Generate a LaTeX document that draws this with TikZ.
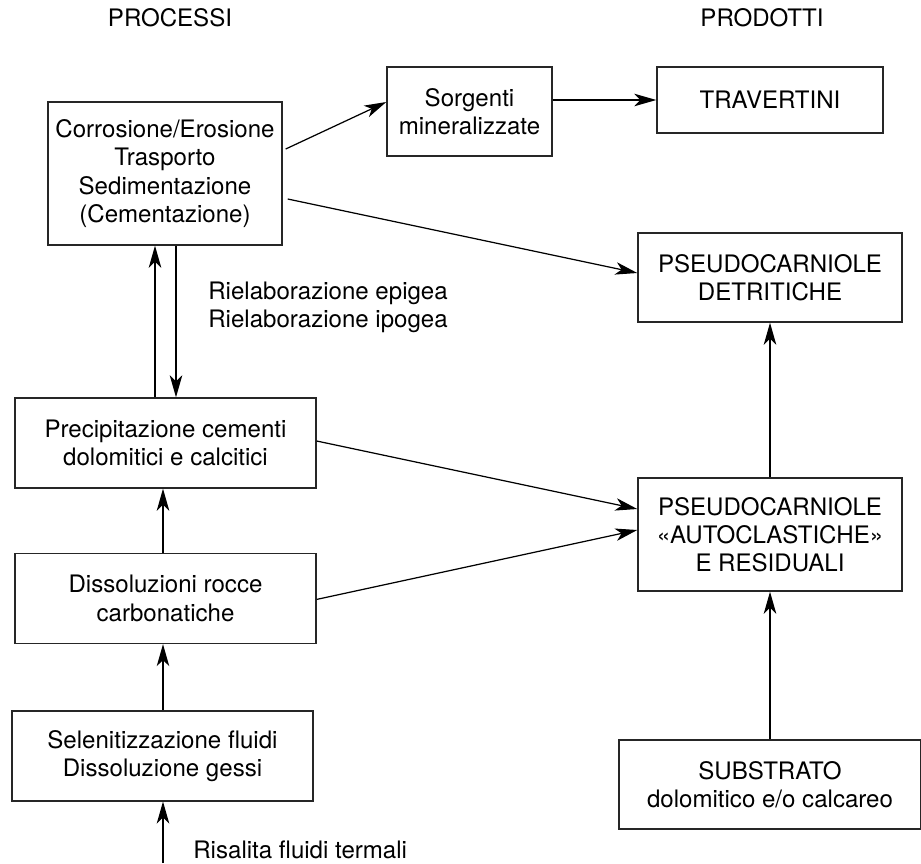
\documentclass[tikz,border=0pt]{standalone}
\usepackage{fontspec}
\setmainfont{TeX Gyre Heros}
\usetikzlibrary{arrows.meta,positioning}

\begin{document}
\begin{tikzpicture}[
	processnode/.style={rectangle, draw=black!85, line width=0.8pt, align=center, inner sep=0pt, minimum width=6.02cm, minimum height=1.8cm},
	productnode/.style={rectangle, draw=black!85, line width=0.8pt, align=center, inner sep=0pt},
	labelnode/.style={align=left, inner sep=0pt},
	flow/.style={-{Stealth[length=4.4mm, width=2.5mm, inset=1.2mm]}, line width=0.7pt},
	font=\fontsize{13.7}{16}\selectfont,
	node distance=1.3cm
	]
	\useasboundingbox (0,0) rectangle (18.42,-17.26);
	% Headings
	\node (Processi) at (3.40,-0.36) {PROCESSI};
	\node (Prodotti) at (15.24,-0.36) {PRODOTTI};
	%Nodes
	\node[productnode, minimum width=4.68cm, minimum height=2.86cm](Corrosione) at (3.30,-3.47) {Corrosione/Erosione\\Trasporto\\Sedimentazione\\(Cementazione)};
	\node[productnode, minimum width=3.30cm, minimum height=1.78cm](Sorgenti) at (9.39,-2.23) {Sorgenti\\mineralizzate};
	\node[productnode, minimum width=4.52cm, minimum height=1.32cm](Travertini) at (15.40,-2.00) {TRAVERTINI};
	\node[productnode, minimum width=5.28cm, minimum height=1.78cm](Detritiche) at (15.40,-5.55) {PSEUDOCARNIOLE\\DETRITICHE};
	\node[productnode, minimum width=5.28cm, minimum height=2.26cm](Autoclastiche) at (15.40,-10.69) {PSEUDOCARNIOLE\\«AUTOCLASTICHE»\\E RESIDUALI};
	\node[productnode, minimum width=6.04cm, minimum height=1.78cm](Substrato) at (15.40,-15.69) {SUBSTRATO\\dolomitico e/o calcareo};
	\node[processnode](Precipitazione) at (3.31,-8.86) {Precipitazione cementi\\dolomitici e calcitici};
	\node[processnode](Dissoluzioni)[below=1.28cm of Precipitazione] {Dissoluzioni rocce\\carbonatiche};
	\node[processnode](Selenitizzazione)[below=1.32cm of Dissoluzioni, xshift=-0.06cm] {Selenitizzazione fluidi\\Dissoluzione gessi};
	\coordinate (Risalita) at (3.26,-17.26);
	% Labels
	\node[labelnode, anchor=west](Rielaborazione) at (4.16,-6.14) {Rielaborazione epigea\\Rielaborazione ipogea};
	\node[labelnode, anchor=base west, text depth=0pt](Fluidi) at (3.86,-17.16) {Risalita fluidi termali};
	%Lines
	\draw[flow] ([xshift=-2mm]Corrosione.south |- Precipitazione.north) -- ([xshift=-2mm]Corrosione.south);
	\draw[flow] ([xshift=2.2mm]Corrosione.south) -- ([xshift=2.2mm]Corrosione.south |- Precipitazione.north);
	\draw[flow] (Risalita) -- (Risalita |- Selenitizzazione.south);
	\draw[flow] (Risalita |- Selenitizzazione.north) -- (Risalita |- Dissoluzioni.south);
	\draw[flow] (Risalita |- Dissoluzioni.north) -- (Risalita |- Precipitazione.south);
	\draw[flow] ([xshift=0.6mm, yshift=4.9mm]Corrosione.east) -- ([yshift=1.9mm]Sorgenti.west);
	\draw[flow] (Travertini.west -| Sorgenti.east) -- (Travertini.west);
	\draw[flow] ([xshift=1mm, yshift=-5.1mm]Corrosione.east) -- ([yshift=0.09cm]Detritiche.west);
	\draw[flow] ([yshift=0.04cm]Precipitazione.east) -- ([yshift=0.51cm]Autoclastiche.west);
	\draw[flow] ([yshift=-0.02cm]Dissoluzioni.east) -- ([yshift=0.09cm]Autoclastiche.west);
	\draw[flow] (Autoclastiche.north) -- (Detritiche.south);
	\draw[flow] (Substrato.north) -- (Autoclastiche.south);
\end{tikzpicture}
\end{document}
